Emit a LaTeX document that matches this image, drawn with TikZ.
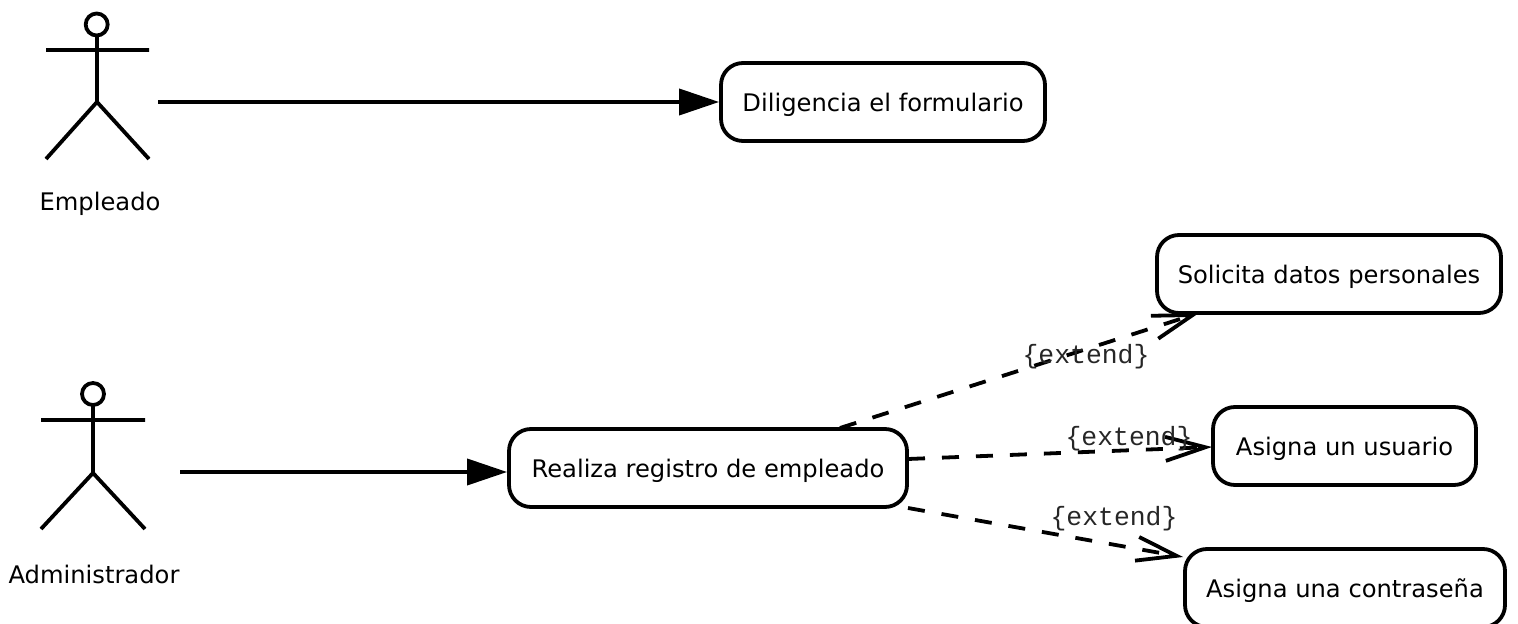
\documentclass[tikz,border=0pt]{standalone}
\usepackage{fontspec}
\setmainfont{DejaVu Sans}
\setmonofont{Liberation Mono}
\usetikzlibrary{arrows.meta}
\tikzset{
 x=0.5pt,y=-0.5pt,
 uc/.style={draw,line width=1.9pt,rounded corners=11pt,minimum height=39pt,inner sep=0pt,text depth=0pt,font=\fontsize{12.1pt}{14pt}\selectfont,text=black},
 actor/.style={line width=1.9pt},
 lab/.style={inner sep=0pt,font=\fontsize{12.1pt}{14pt}\selectfont,text=black},
 ext/.style={inner sep=0pt,font=\ttfamily\fontsize{13.2pt}{15pt}\selectfont,text=black!85},
 assoc/.style={line width=1.9pt,-{Triangle[length=20pt,width=13pt]}},
 dep/.style={line width=1.9pt,dash pattern=on 8.5pt off 8.5pt,-{Straight Barb[length=20pt,width=12pt,line width=1.9pt]}},
}
\begin{document}
\begin{tikzpicture}
\useasboundingbox (0,0) rectangle (1518,624);
\node[uc,minimum width=162pt] (dil) at (883,102) {Diligencia el formulario};
\node[uc,minimum width=172pt] (sol) at (1329,274) {Solicita datos personales};
\node[uc,minimum width=199pt] (rea) at (708,468) {Realiza registro de empleado};
\node[uc,minimum width=131.5pt] (usu) at (1344.5,446) {Asigna un usuario};
\node[uc,minimum width=160pt] (con) at (1345,588) {Asigna una contraseña};
\node[lab] (emp) at (100,204) {Empleado};
\node[lab] (adm) at (94,574) {Administrador};
\coordinate (e1) at (158,102);
\coordinate (a1) at (180,472);
% actors
\draw[actor] (96.7,24.5) circle[radius=11];
\draw[actor] (46,50) -- (149,50) (97,36) -- (97,102) (46,159) -- (97,102) -- (149,159);
\draw[actor] (93,394) circle[radius=11];
\draw[actor] (41,420) -- (145,420) (93,405) -- (93,473) (41,529) -- (93,473) -- (145,529);
% connectors
\draw[assoc] (e1) -- (dil.west);
\draw[assoc] (a1) -- (a1 -| rea.west);
\coordinate (r1) at (840,428);
\coordinate (r2) at (908,459);
\coordinate (r3) at (908,508);
\coordinate (t1) at (1199,313);
\coordinate (t2) at (1212,447);
\coordinate (t3) at (1183,557);
\draw[dep] (r1) -- (t1);
\draw[dep] (r2) -- (t2);
\draw[dep] (r3) -- (t3);
\node[ext] (x1) at (1086,357) {\{extend\}};
\node[ext] (x2) at (1129,439) {\{extend\}};
\node[ext] (x3) at (1114,519) {\{extend\}};
\end{tikzpicture}
\end{document}
